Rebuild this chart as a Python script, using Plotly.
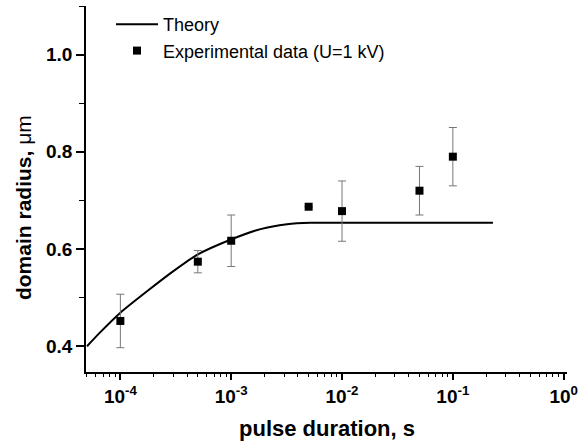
import plotly.graph_objects as go

# Theory curve
theory_x = [5.0e-5, 6.6e-5, 1.0e-4, 1.74e-4, 3.03e-4, 4.92e-4, 9.84e-4, 1.84e-3, 3.19e-3, 5.19e-3, 1.0e-2, 5.0e-2, 0.23]
theory_y = [0.400, 0.429, 0.469, 0.513, 0.555, 0.588, 0.619, 0.641, 0.651, 0.654, 0.654, 0.654, 0.654]

# Experimental data
exp_x = [1e-4, 5e-4, 1e-3, 5e-3, 1e-2, 5e-2, 1e-1]
exp_y = [0.452, 0.574, 0.617, 0.687, 0.678, 0.720, 0.790]
exp_err = [0.055, 0.023, 0.053, 0.0, 0.062, 0.050, 0.060]

x_tickvals = [1e-4, 1e-3, 1e-2, 1e-1, 1]
x_ticktext = ["10<sup>-4</sup>", "10<sup>-3</sup>", "10<sup>-2</sup>", "10<sup>-1</sup>", "10<sup>0</sup>"]
y_tickvals = [0.4, 0.6, 0.8, 1.0]

FONT = "Liberation Sans, Arial, sans-serif"

fig = go.Figure()
fig.add_trace(go.Scatter(
    x=theory_x, y=theory_y, mode="lines", name="Theory",
    line=dict(color="black", width=2, shape="spline", smoothing=0.6),
))
fig.add_trace(go.Scatter(
    x=exp_x, y=exp_y, mode="markers", name="Experimental data (U=1 kV)",
    marker=dict(symbol="square", size=8, color="black"),
    error_y=dict(type="data", array=exp_err, visible=True, color="#777777", thickness=1, width=4),
))

fig.update_layout(
    width=579, height=447,
    margin=dict(l=86, r=12, t=6, b=75),
    paper_bgcolor="white", plot_bgcolor="white",
    font=dict(family=FONT, color="black"),
    showlegend=True,
    legend=dict(
        x=0.052, y=1.0, xanchor="left", yanchor="top",
        bgcolor="rgba(0,0,0,0)", font=dict(size=18, family=FONT),
        itemwidth=42, tracegroupgap=0,
    ),
    xaxis=dict(
        type="log", range=[-4.31, 0.03], automargin=False,
        showgrid=False, zeroline=False,
        showline=True, linecolor="black", linewidth=1.5,
        ticks="outside", ticklen=6, tickwidth=1.5, tickcolor="black",
        tickvals=x_tickvals, ticktext=x_ticktext,
        tickfont=dict(size=19, family=FONT, weight="bold"),
        minor=dict(ticks="outside", ticklen=3, tickwidth=1, tickcolor="black", dtick="D1", showgrid=False),
    ),
    yaxis=dict(
        range=[0.347, 1.10], automargin=False,
        showgrid=False, zeroline=False,
        showline=True, linecolor="black", linewidth=1.5,
        ticks="outside", ticklen=8, tickwidth=1.5, tickcolor="black",
        tickvals=y_tickvals, tickformat=".1f",
        tickfont=dict(size=19, family=FONT, weight="bold"),
        minor=dict(ticks="outside", ticklen=5, tickwidth=1, tickcolor="black", dtick=0.1, showgrid=False),
    ),
    annotations=[
        dict(text="pulse duration, s", xref="paper", yref="paper", x=0.5, y=0,
             xanchor="center", yanchor="middle", yshift=-56, showarrow=False,
             font=dict(size=22, family=FONT, weight="bold")),
        dict(text="domain radius, <span style='font-weight:normal'>\u03bcm</span>", xref="paper", yref="paper", x=0, y=0.448,
             xanchor="center", yanchor="middle", xshift=-63, textangle=-90, showarrow=False,
             font=dict(size=21, family=FONT, weight="bold")),
    ],
)

fig.write_html("out.html", config={"displayModeBar": False},
               post_script="document.body.style.margin='0';document.body.style.overflow='hidden';")
